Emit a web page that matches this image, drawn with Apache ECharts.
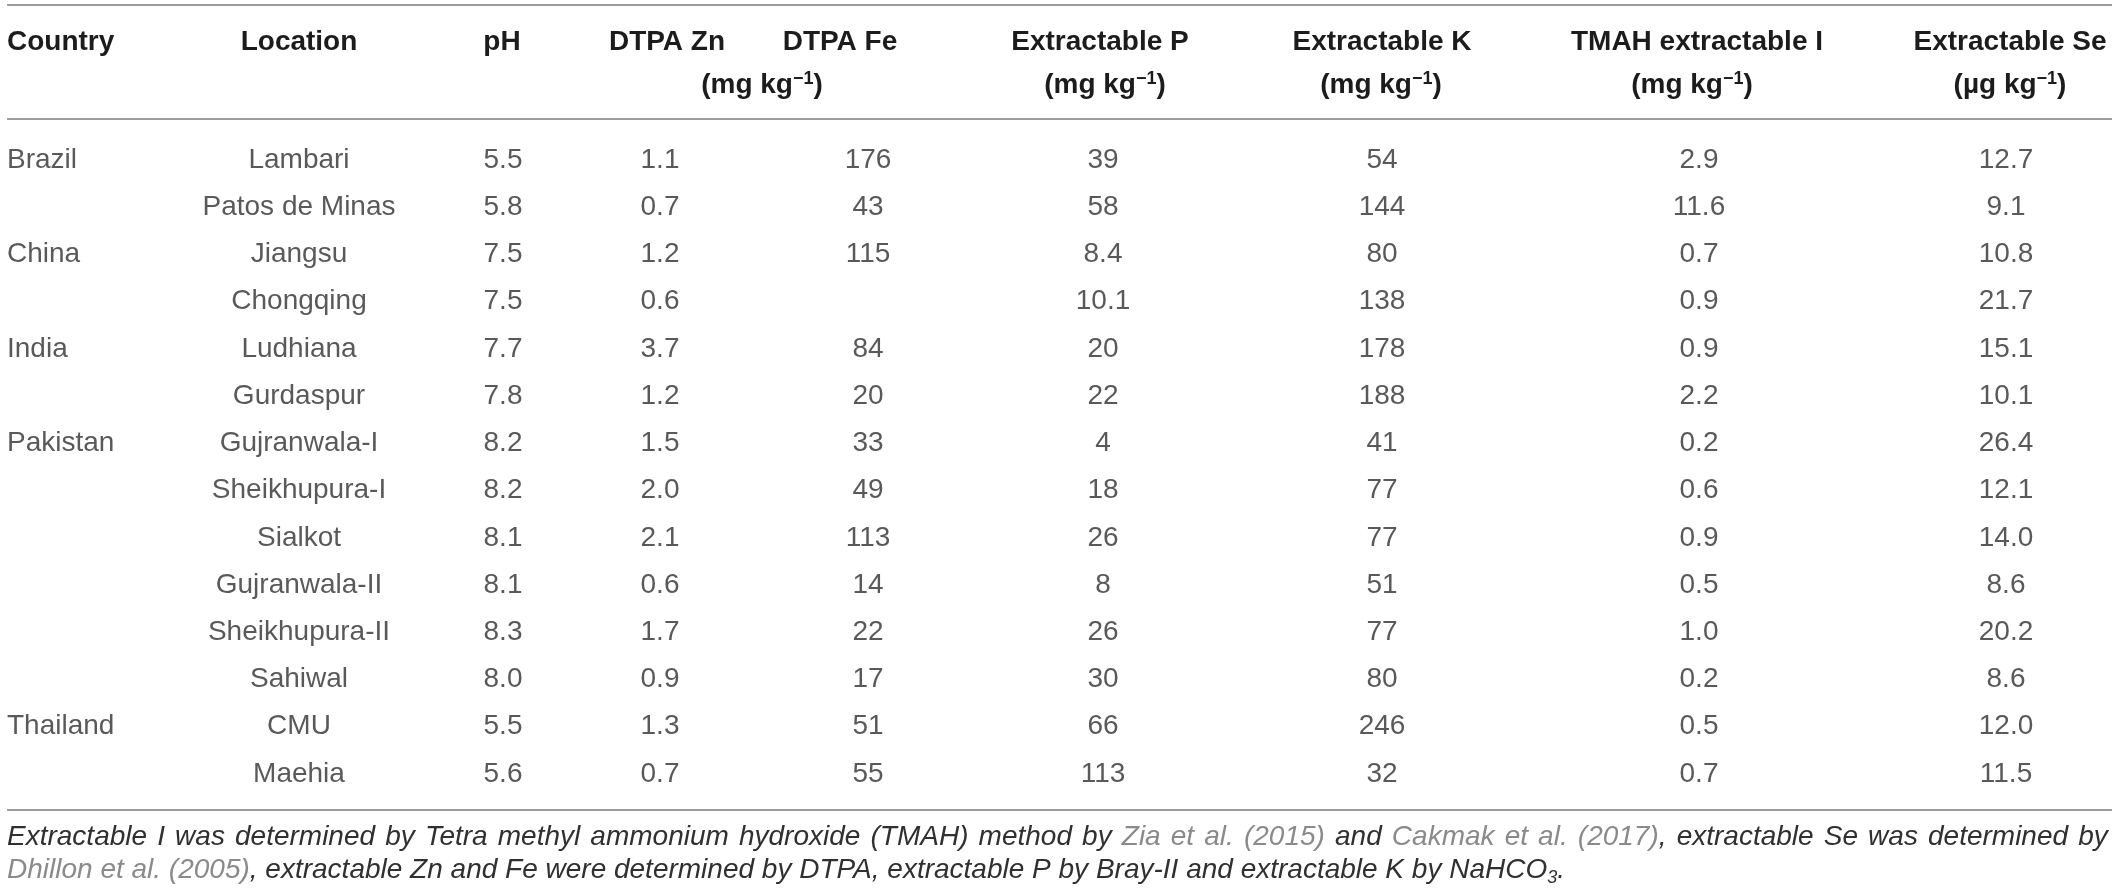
<!DOCTYPE html>
<html>
<head>
<meta charset="utf-8">
<script src="https://cdn.jsdelivr.net/npm/echarts@6/dist/echarts.min.js"></script>
<style>
html,body{margin:0;padding:0;background:#fff;}
#chart{width:2119px;height:896px;}
</style>
</head>
<body>
<div id="chart"></div>
<script>
// ---- data ----
const countries = ['Brazil','','China','','India','','Pakistan','','','','','','Thailand',''];
const locations = ['Lambari','Patos de Minas','Jiangsu','Chongqing','Ludhiana','Gurdaspur','Gujranwala-I','Sheikhupura-I','Sialkot','Gujranwala-II','Sheikhupura-II','Sahiwal','CMU','Maehia'];
const pH = [5.5,5.8,7.5,7.5,7.7,7.8,8.2,8.2,8.1,8.1,8.3,8.0,5.5,5.6];
const dtpaZn = [1.1,0.7,1.2,0.6,3.7,1.2,1.5,2.0,2.1,0.6,1.7,0.9,1.3,0.7];
const dtpaFe = [176,43,115,null,84,20,33,49,113,14,22,17,51,55];
const extP = [39,58,8.4,10.1,20,22,4,18,26,8,26,30,66,113];
const extK = [54,144,80,138,178,188,41,77,77,51,77,80,246,32];
const tmahI = [2.9,11.6,0.7,0.9,0.9,2.2,0.2,0.6,0.9,0.5,1.0,0.2,0.5,0.7];
const extSe = [12.7,9.1,10.8,21.7,15.1,10.1,26.4,12.1,14.0,8.6,20.2,8.6,12.0,11.5];

const headers = ['Country','Location','pH','DTPA Zn','DTPA Fe','Extractable P','Extractable K','TMAH extractable I','Extractable Se'];
const unitMg = '(mg kg{sup|\u22121})';
const unitUg = '(\u00b5g kg{sup|\u22121})';
const noteLine1 = [
  ['i','Extractable I was determined by Tetra methyl ammonium hydroxide (TMAH) method by '],
  ['c','Zia et al. (2015)'],
  ['i',' and '],
  ['c','Cakmak et al. (2017)'],
  ['i',', extractable Se was determined by']
];
const noteLine2 = [
  ['c','Dhillon et al. (2005)'],
  ['i',', extractable Zn and Fe were determined by DTPA, extractable P by Bray-II and extractable K by NaHCO'],
  ['sub','3'],
  ['i','.']
];

// ---- layout (style, not data) ----
const W = 2119, H = 896;
const FONT = '"Liberation Sans", Arial, Helvetica, sans-serif';
const BODY = 28, HEAD = 28, NOTE = 28;
const colX = {country:7, location:299, ph:503, zn:660, fe:868, p:1103, k:1382, i:1699, se:2006};
const headX = [7, 299, 502, 667, 840, 1100, 1382, 1697, 2010];
const unitsPos = [
  {x:762, t:unitMg}, {x:1105, t:unitMg}, {x:1381, t:unitMg}, {x:1692, t:unitMg}, {x:2010, t:unitUg}
];
const ruleTop = 5, ruleHead = 119, ruleBottom = 810;
const headY1 = 42, headY2 = 85;
const noteY1 = 837, noteY2 = 870;
const gridTop = 136.4, rowBand = 47.23;
const TEXT = '#303030', HEADC = '#1c1c1c', CITE = '#8a8a8a', RULE = '#9c9c9c';

function fmt(v, dec){
  if (v === null || v === undefined) return '';
  return dec === null ? String(v) : v.toFixed(dec);
}

function colSeries(name, x, values, dec, align){
  return {
    type:'scatter',
    name:name,
    symbolSize:1,
    itemStyle:{color:'rgba(0,0,0,0)'},
    silent:true,
    data: values.map((v,i)=>[x, i, fmt(v,dec)]),
    label:{
      show:true,
      position:'inside',
      align: align || 'center',
      verticalAlign:'middle',
      formatter: p => p.value[2],
      color: TEXT,
      fontFamily: FONT,
      fontSize: BODY
    }
  };
}

const series = [
  colSeries('Country', colX.country, countries, null, 'left'),
  colSeries('Location', colX.location, locations, null),
  colSeries('pH', colX.ph, pH, 1),
  colSeries('DTPA Zn', colX.zn, dtpaZn, 1),
  colSeries('DTPA Fe', colX.fe, dtpaFe, 0),
  colSeries('Extractable P', colX.p, extP, null),
  colSeries('Extractable K', colX.k, extK, 0),
  colSeries('TMAH extractable I', colX.i, tmahI, 1),
  colSeries('Extractable Se', colX.se, extSe, 1)
];

const graphics = [];
function rule(y){
  graphics.push({type:'line', shape:{x1:7, y1:y, x2:2112, y2:y}, style:{stroke:RULE, lineWidth:2}, silent:true});
}
rule(ruleTop); rule(ruleHead); rule(ruleBottom);

headers.forEach((h,idx)=>{
  graphics.push({type:'text', x:headX[idx], y:headY1, silent:true,
    style:{text:h, fill:HEADC, font:'bold '+HEAD+'px '+FONT,
      align: idx===0 ? 'left' : 'center', verticalAlign:'middle'}});
});
const supRich = {sup:{fontSize:18, fontWeight:'bold', fontFamily:FONT, fill:HEADC, verticalAlign:'top', lineHeight:30, padding:[0,0,12,0]}};
unitsPos.forEach(u=>{
  graphics.push({type:'text', x:u.x, y:headY2, silent:true,
    style:{text:u.t, fill:HEADC, font:'bold '+HEAD+'px '+FONT, align:'center', verticalAlign:'middle',
      lineHeight:30, rich:supRich}});
});

const noteRich = {
  i:{fontStyle:'italic', fontSize:NOTE, fontFamily:FONT, fill:TEXT, lineHeight:34},
  c:{fontStyle:'italic', fontSize:NOTE, fontFamily:FONT, fill:CITE, lineHeight:34},
  sub:{fontStyle:'italic', fontSize:18, fontFamily:FONT, fill:TEXT, lineHeight:34, verticalAlign:'bottom', padding:[10,0,0,0]}
};
function richLine(parts, justify){
  return parts.map(([k,t]) => '{'+k+'|'+(justify ? t.replace(/ /g,' \u200a') : t)+'}').join('');
}
graphics.push({type:'text', x:7, y:noteY1, silent:true,
  style:{text:richLine(noteLine1, true), rich:noteRich, align:'left', verticalAlign:'middle'}});
graphics.push({type:'text', x:7, y:noteY2, silent:true,
  style:{text:richLine(noteLine2, false), rich:noteRich, align:'left', verticalAlign:'middle'}});

const chart = echarts.init(document.getElementById('chart'), null, {renderer:'canvas'});
chart.setOption({
  animation:false,
  backgroundColor:'#ffffff',
  grid:{left:0, right:0, top:gridTop, height:rowBand*locations.length},
  xAxis:{type:'value', min:0, max:W, show:false},
  yAxis:{type:'category', data:locations, inverse:true, show:false},
  series: series,
  graphic: graphics
});
</script>
</body>
</html>
